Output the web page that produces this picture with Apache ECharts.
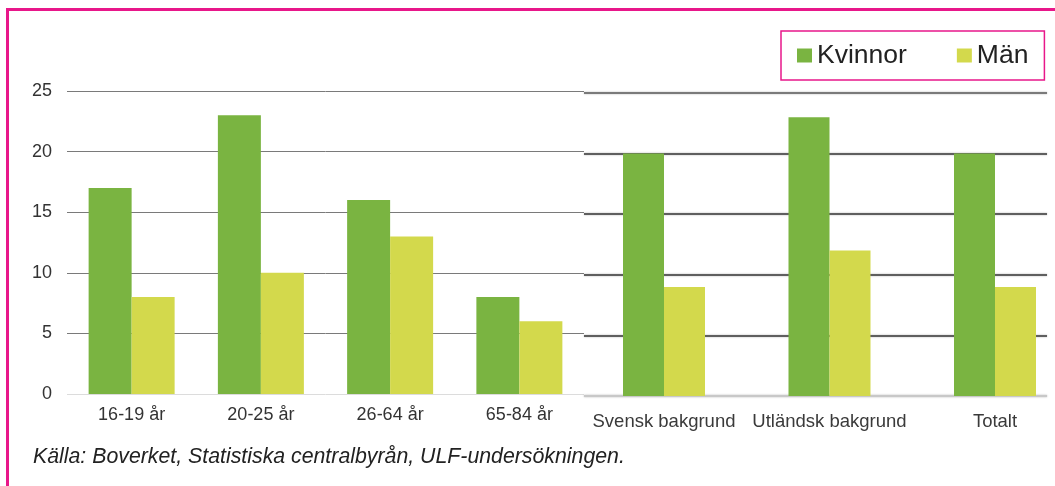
<!DOCTYPE html>
<html>
<head>
    <meta charset="UTF-8">
    <title>Kvinnor och män</title>
    <script src="https://cdn.jsdelivr.net/npm/echarts@6/dist/echarts.min.js"></script>
    <style>
        html, body { margin: 0; padding: 0; background: #fff; }
        #chart { width: 1055px; height: 486px; }
    </style>
</head>
<body>
    <div id="chart"></div>
    <script>
        // data
        var ageCats = ['16-19 år', '20-25 år', '26-64 år', '65-84 år'];
        var ageKvinnor = [17, 23, 16, 8];
        var ageMan = [8, 10, 13, 6];

        var bgCats = ['Svensk bakgrund', 'Utländsk bakgrund', 'Totalt'];
        var bgKvinnor = [20, 23, 20];
        var bgMan = [9, 12, 9];

        var yTicks = [0, 5, 10, 15, 20, 25];

        var pink = '#e8178a';
        var green = '#7ab441';
        var yellow = '#d3d94c';
        var font = 'Liberation Sans, Arial, sans-serif';

        var chart = echarts.init(document.getElementById('chart'));
        var option = {
            animation: false,
            textStyle: { fontFamily: font },
            legend: {
                data: ['Kvinnor', 'Män'],
                icon: 'rect',
                left: 781,
                top: 31,
                padding: [11, 16, 11, 16],
                itemGap: 50,
                itemWidth: 15,
                itemHeight: 14,
                borderColor: pink,
                borderWidth: 1.5,
                textStyle: { fontSize: 26.5, lineHeight: 26, color: '#222', fontFamily: font }
            },
            graphic: [
                {   // ram runt bilden
                    type: 'rect',
                    shape: { x: 7.5, y: 9.5, width: 1100, height: 600 },
                    style: { fill: 'none', stroke: pink, lineWidth: 3 }
                },
                {
                    type: 'text',
                    left: 33,
                    top: 447,
                    style: {
                        text: 'Källa: Boverket, Statistiska centralbyrån, ULF-undersökningen.',
                        font: 'italic 21.3px ' + font,
                        fill: '#222'
                    }
                }
            ],
            grid: [
                { left: 67, top: 91, width: 517, height: 303 },
                { left: 664, top: 93, width: 331, height: 303 },
                { left: 584, top: 93, width: 463, height: 303 }
            ],
            xAxis: [
                {
                    type: 'category', gridIndex: 0, data: ageCats,
                    axisLine: { show: false }, axisTick: { show: false },
                    axisLabel: { fontSize: 18, color: '#333', margin: 12 }
                },
                {
                    type: 'category', gridIndex: 1, data: bgCats, boundaryGap: false,
                    axisLine: { show: false }, axisTick: { show: false },
                    axisLabel: { fontSize: 18.5, color: '#3a3a3a', margin: 16, interval: 0 }
                },
                { type: 'value', gridIndex: 2, show: false, min: 0, max: 1 }
            ],
            yAxis: [
                {
                    type: 'value', gridIndex: 0, min: 0, max: 25, interval: 5,
                    axisLine: { show: false }, axisTick: { show: false },
                    axisLabel: { fontSize: 18, color: '#333', margin: 15 },
                    splitLine: { lineStyle: { color: ['#dcdcdc', '#7a7a7a', '#7a7a7a', '#7a7a7a', '#7a7a7a', '#7a7a7a'], width: 1 } }
                },
                {
                    type: 'value', gridIndex: 1, min: 0, max: 25, interval: 5,
                    axisLine: { show: false }, axisTick: { show: false },
                    axisLabel: { show: false }, splitLine: { show: false }
                },
                {
                    type: 'value', gridIndex: 2, min: 0, max: 25, interval: 5,
                    axisLine: { show: false }, axisTick: { show: false },
                    axisLabel: { show: false },
                    splitLine: {
                        lineStyle: {
                            color: ['#c8c8c8', '#5f5f5f', '#5f5f5f', '#5f5f5f', '#5f5f5f', '#7a7a7a'],
                            width: 2,
                            shadowColor: 'rgba(0,0,0,0.3)',
                            shadowBlur: 2
                        }
                    }
                }
            ],
            series: [
                { name: 'Kvinnor', type: 'bar', xAxisIndex: 0, yAxisIndex: 0, data: ageKvinnor, barWidth: 43, barGap: '0%', itemStyle: { color: green } },
                { name: 'Män', type: 'bar', xAxisIndex: 0, yAxisIndex: 0, data: ageMan, barWidth: 43, barGap: '0%', itemStyle: { color: yellow } },
                { name: 'Kvinnor', type: 'bar', xAxisIndex: 1, yAxisIndex: 1, data: bgKvinnor, barWidth: 41, barGap: '0%', itemStyle: { color: green }, z: 3 },
                { name: 'Män', type: 'bar', xAxisIndex: 1, yAxisIndex: 1, data: bgMan, barWidth: 41, barGap: '0%', itemStyle: { color: yellow }, z: 3 }
            ]
        };
        chart.setOption(option);
    </script>
</body>
</html>
